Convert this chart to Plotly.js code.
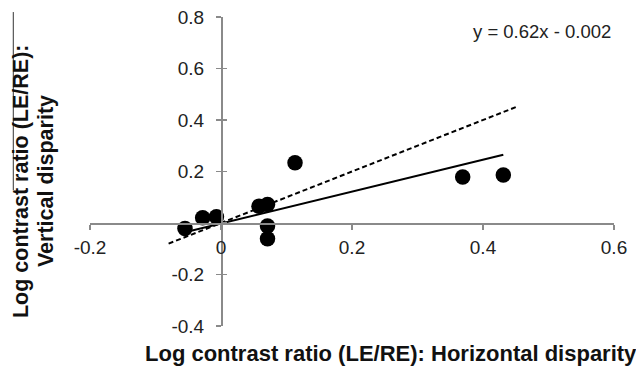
<!DOCTYPE html>
<html>
<head>
<meta charset="utf-8">
<script src="https://cdn.plot.ly/plotly-3.0.1.min.js"></script>
<style>html,body{margin:0;padding:0;background:#fff}#chart{width:636px;height:368px}</style>
</head>
<body>
<div id="chart"></div>
<script>
// Data
var pointX = [-0.055, -0.028, -0.007, 0.058, 0.071, 0.071, 0.071, 0.113, 0.369, 0.431];
var pointY = [-0.021, 0.020, 0.024, 0.065, 0.072, -0.012, -0.061, 0.234, 0.179, 0.186];
var trendX = [-0.055, 0.431];
var trendY = [-0.036, 0.265];
var unityX = [-0.080, 0.450];
var unityY = [-0.080, 0.450];
var xTicks = [-0.2, 0, 0.2, 0.4, 0.6];
var xTickText = ['-0.2', '0', '0.2', '0.4', '0.6'];
var yTicks = [-0.4, -0.2, 0.2, 0.4, 0.6, 0.8];
var yTickText = ['-0.4', '-0.2', '0.2', '0.4', '0.6', '0.8'];
var yCrossTicks = [-0.4, -0.2, 0, 0.2, 0.4, 0.6, 0.8];
var equationText = 'y = 0.62x - 0.002';
var xTitle = 'Log contrast ratio (LE/RE): Horizontal disparity';
var yTitle1 = 'Log contrast ratio (LE/RE):';
var yTitle2 = 'Vertical disparity';

var FONT = 'Liberation Sans, Arial, sans-serif';
var axisColor = '#8a8a8a';

var traces = [
  {x: unityX, y: unityY, mode: 'lines', yaxis: 'y2',
   line: {color: '#000', width: 2, dash: '5px,3px'}, hoverinfo: 'skip'},
  {x: trendX, y: trendY, mode: 'lines',
   line: {color: '#000', width: 2}, hoverinfo: 'skip'},
  {x: pointX, y: pointY, mode: 'markers',
   marker: {color: '#000', size: 15.5}}
];

var layout = {
  width: 636, height: 368,
  margin: {l: 90, r: 22, t: 17, b: 42},
  paper_bgcolor: '#fff', plot_bgcolor: '#fff',
  showlegend: false,
  font: {family: FONT, size: 19, color: '#222'},
  xaxis: {
    range: [-0.2, 0.6], anchor: 'free', position: 0.3333,
    showgrid: false, zeroline: false, showline: true,
    linecolor: axisColor, linewidth: 1.5,
    ticks: 'outside', ticklen: 5, tickcolor: axisColor, tickwidth: 1.5,
    tickvals: xTicks, ticktext: xTickText, ticklabelstandoff: 2,
    tickfont: {family: FONT, size: 19, color: '#222'}
  },
  yaxis: {
    range: [-0.4, 0.8], anchor: 'free', position: 0.25,
    showgrid: false, zeroline: false, showline: true,
    linecolor: axisColor, linewidth: 1.5,
    ticks: 'outside', ticklen: 5, tickcolor: axisColor, tickwidth: 1.5,
    tickvals: yTicks, ticktext: yTickText, ticklabelstandoff: 8,
    tickfont: {family: FONT, size: 19, color: '#222'}
  },
  yaxis2: {
    range: [-0.4, 0.8], overlaying: 'y', anchor: 'free', position: 0.25,
    showgrid: false, zeroline: false, showline: false,
    ticks: 'inside', ticklen: 5, tickcolor: axisColor, tickwidth: 1.5,
    tickvals: yCrossTicks, showticklabels: false
  },
  annotations: [
    {text: equationText, xref: 'x', yref: 'y', x: 0.598, y: 0.742,
     xanchor: 'right', yanchor: 'middle', showarrow: false,
     font: {family: FONT, size: 18.5, color: '#222'}},
    {text: '<b>' + xTitle + '</b>', xref: 'paper', yref: 'paper', x: 0.5735, y: -0.0874,
     xanchor: 'center', yanchor: 'middle', showarrow: false,
     font: {family: FONT, size: 22, color: '#111'}},
    {text: '<b>' + yTitle1 + '</b>', xref: 'paper', yref: 'paper', x: -0.1317, y: 0.469,
     xanchor: 'center', yanchor: 'middle', textangle: -90, showarrow: false,
     font: {family: FONT, size: 21.5, color: '#111'}},
    {text: '<b>' + yTitle2 + '</b>', xref: 'paper', yref: 'paper', x: -0.084, y: 0.469,
     xanchor: 'center', yanchor: 'middle', textangle: -90, showarrow: false,
     font: {family: FONT, size: 21.5, color: '#111'}}
  ],
  shapes: [
    {type: 'line', xref: 'paper', yref: 'paper', x0: -0.1464, x1: -0.1464, y0: 1.016, y1: 0.44,
     line: {color: '#333', width: 1}}
  ]
};

Plotly.newPlot('chart', traces, layout, {displayModeBar: false, staticPlot: true});
</script>
</body>
</html>
